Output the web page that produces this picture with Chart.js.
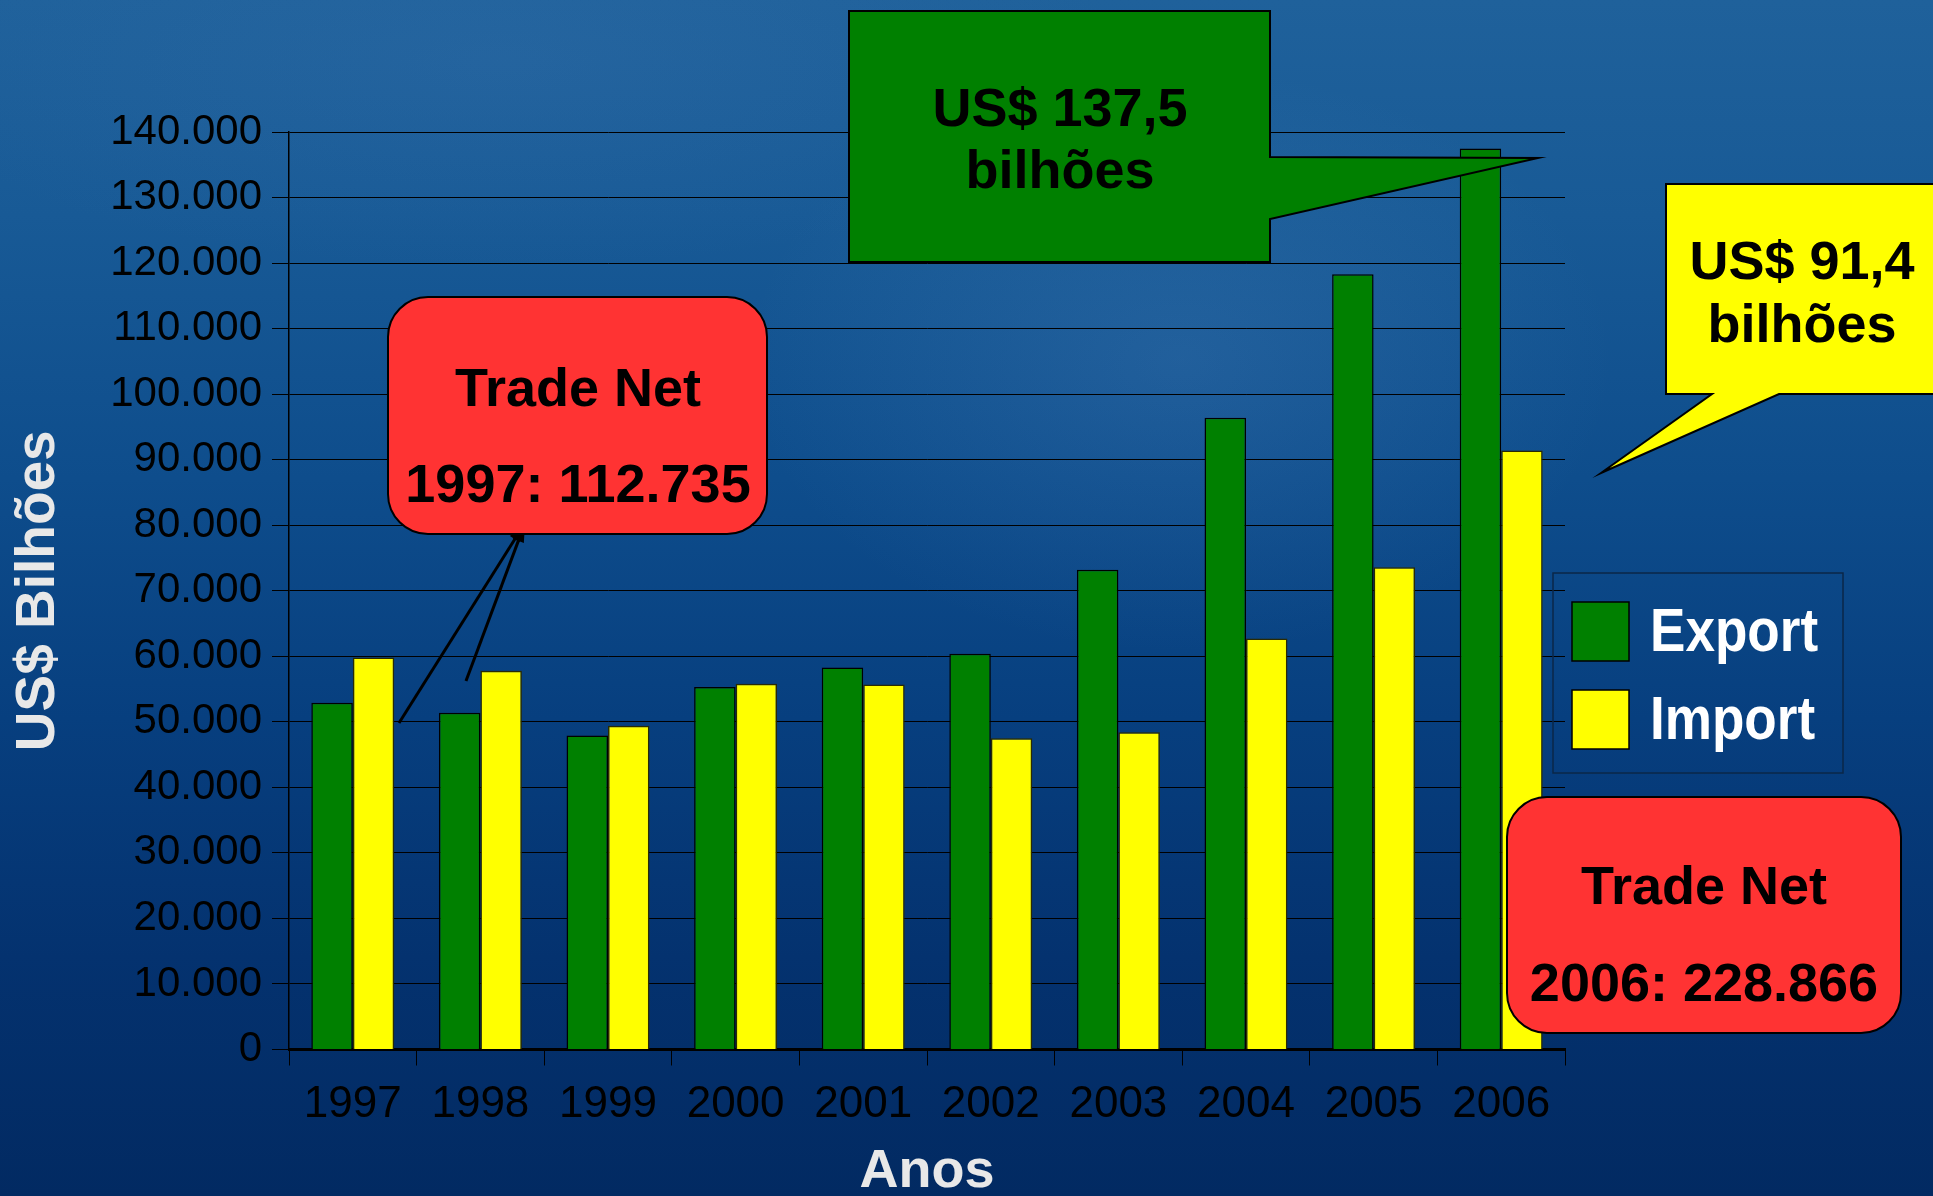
<!DOCTYPE html>
<html>
<head>
<meta charset="utf-8">
<title>Export / Import 1997-2006</title>
<script src="https://cdn.jsdelivr.net/npm/chart.js@4.4.1/dist/chart.umd.min.js"></script>
<style>
  html, body { margin: 0; padding: 0; overflow: hidden; background: #0a3f7e; }
  #wrap {
    width: 1933px; height: 1196px; position: relative;
    background:
      radial-gradient(ellipse 620px 420px at 1180px 360px, rgba(110,160,215,0.16), rgba(110,160,215,0) 70%),
      radial-gradient(ellipse 900px 300px at 500px 60px, rgba(80,130,190,0.14), rgba(80,130,190,0) 70%),
      linear-gradient(180deg, #1f619b 0%, #185a96 18%, #0e4d8c 40%, #073f7f 60%, #04326f 80%, #022a62 100%);
  }
</style>
</head>
<body>
<div id="wrap"><canvas id="tradeChart" width="1933" height="1196"></canvas></div>
<script>
// ===================================================================
// Brazil - Export x Import 1997-2006 (US$ milhões)
// ===================================================================

const years = ['1997', '1998', '1999', '2000', '2001', '2002', '2003', '2004', '2005', '2006'];
const exportValues = [52900, 51400, 47900, 55300, 58300, 60400, 73200, 96400, 118300, 137500];
const importValues = [59800, 57800, 49400, 55800, 55700, 47500, 48400, 62700, 73600, 91400];

const yMin = 0;
const yMax = 140000;
const yStep = 10000;

const seriesNames = ['Export', 'Import'];
const xTitle = 'Anos';
const yTitle = 'US$ Bilhões';

const exportNote = ['US$ 137,5', 'bilhões'];
const importNote = ['US$ 91,4', 'bilhões'];
const tradeNet1997 = ['Trade Net', '1997: 112.735'];
const tradeNet2006 = ['Trade Net', '2006: 228.866'];

const COLORS = {
  green: '#008000',
  yellow: '#ffff00',
  red: '#ff3333',
  text: '#000000',
  title: '#e8e8e8',
  grid: '#000000',
  legendBorder: '#0b2748',
};

const FONT = '"Liberation Sans", Arial, Helvetica, sans-serif';

// thousands with dots, e.g. 140.000
function fmt(v) {
  return String(v).replace(/\B(?=(\d{3})+(?!\d))/g, '.');
}

// callout boxes (layout only, pixel positions on the slide)
const CALLOUTS = [
  {
    lines: exportNote, fill: COLORS.green, cx: 1060, baselines: [126, 188],
    shape: [[849, 11], [1270, 11], [1270, 157], [1538, 158], [1270, 219], [1270, 262], [849, 262]],
  },
  {
    lines: importNote, fill: COLORS.yellow, cx: 1802, baselines: [279, 342],
    shape: [[1666, 184], [1945, 184], [1945, 394], [1779, 394], [1601, 473], [1712, 394], [1666, 394]],
  },
  {
    lines: tradeNet1997, fill: COLORS.red, cx: 578, baselines: [406, 502],
    box: { x: 388, y: 297, w: 379, h: 237, r: 40 },
  },
  {
    lines: tradeNet2006, fill: COLORS.red, cx: 1704, baselines: [904, 1001],
    box: { x: 1507, y: 797, w: 394, h: 236, r: 40 },
  },
];

const ARROWS = [
  { from: [399, 723], to: [525, 523] },
  { from: [466, 681], to: [525, 523] },
];

function drawArrow(ctx, a) {
  const [x1, y1] = a.from;
  const [x2, y2] = a.to;
  const ang = Math.atan2(y2 - y1, x2 - x1);
  ctx.beginPath();
  ctx.moveTo(x1, y1);
  ctx.lineTo(x2 - 10 * Math.cos(ang), y2 - 10 * Math.sin(ang));
  ctx.stroke();
  ctx.beginPath();
  ctx.moveTo(x2, y2);
  ctx.lineTo(x2 - 20 * Math.cos(ang - 0.3), y2 - 20 * Math.sin(ang - 0.3));
  ctx.lineTo(x2 - 20 * Math.cos(ang + 0.3), y2 - 20 * Math.sin(ang + 0.3));
  ctx.closePath();
  ctx.fill();
}

const calloutPlugin = {
  id: 'callouts',
  afterDraw(chart) {
    const ctx = chart.ctx;
    ctx.save();

    ctx.strokeStyle = '#000';
    ctx.fillStyle = '#000';
    ctx.lineWidth = 3;
    ARROWS.forEach(a => drawArrow(ctx, a));

    CALLOUTS.forEach(c => {
      ctx.beginPath();
      if (c.shape) {
        c.shape.forEach((p, i) => (i ? ctx.lineTo(p[0], p[1]) : ctx.moveTo(p[0], p[1])));
        ctx.closePath();
      } else {
        ctx.roundRect(c.box.x, c.box.y, c.box.w, c.box.h, c.box.r);
      }
      ctx.fillStyle = c.fill;
      ctx.fill();
      ctx.lineWidth = 2;
      ctx.strokeStyle = '#000';
      ctx.stroke();

      ctx.fillStyle = COLORS.text;
      ctx.font = 'bold 54px ' + FONT;
      ctx.textAlign = 'center';
      ctx.textBaseline = 'alphabetic';
      c.lines.forEach((t, i) => ctx.fillText(t, c.cx, c.baselines[i]));
    });
    ctx.restore();
  },
};

// legend box at the right, drawn from the datasets
const legendPlugin = {
  id: 'slideLegend',
  afterDraw(chart) {
    const ctx = chart.ctx;
    const box = { x: 1553, y: 573, w: 290, h: 200 };
    const rows = [602, 690];
    ctx.save();
    ctx.lineWidth = 1.5;
    ctx.strokeStyle = COLORS.legendBorder;
    ctx.strokeRect(box.x, box.y, box.w, box.h);

    chart.data.datasets.forEach((ds, i) => {
      const top = rows[i];
      ctx.fillStyle = ds.backgroundColor;
      ctx.fillRect(1572, top, 57, 59);
      ctx.lineWidth = 1.5;
      ctx.strokeStyle = '#000';
      ctx.strokeRect(1572, top, 57, 59);

      ctx.save();
      ctx.translate(1650, top + 49);
      ctx.scale(0.87, 1);
      ctx.fillStyle = '#ffffff';
      ctx.font = 'bold 61px ' + FONT;
      ctx.textAlign = 'left';
      ctx.textBaseline = 'alphabetic';
      ctx.fillText(ds.label, 0, 0);
      ctx.restore();
    });
    ctx.restore();
  },
};

const ctx = document.getElementById('tradeChart').getContext('2d');

const tradeChart = new Chart(ctx, {
  type: 'bar',
  data: {
    labels: years,
    datasets: [
      {
        label: seriesNames[0],
        data: exportValues,
        backgroundColor: COLORS.green,
        borderColor: '#000',
        borderWidth: 1.5,
      },
      {
        label: seriesNames[1],
        data: importValues,
        backgroundColor: COLORS.yellow,
        borderColor: '#2b2b00',
        borderWidth: 1.5,
      },
    ],
  },
  options: {
    responsive: false,
    animation: false,
    devicePixelRatio: 1,
    layout: {
      padding: { top: 132, right: 368, bottom: 0, left: 0 },
    },
    datasets: {
      bar: {
        categoryPercentage: 0.65,
        barPercentage: 1.0,
      },
    },
    plugins: {
      legend: { display: false },
      tooltip: { enabled: false },
      title: { display: false },
    },
    scales: {
      x: {
        afterFit(scale) { scale.height = 146.5; },
        grid: {
          offset: true,
          drawOnChartArea: false,
          drawTicks: true,
          tickLength: 16,
          color: COLORS.grid,
          lineWidth: 1,
        },
        border: { display: true, color: '#000', width: 3 },
        ticks: {
          color: COLORS.text,
          font: { family: FONT, size: 44 },
          padding: 13,
          maxRotation: 0,
          autoSkip: false,
        },
        title: {
          display: true,
          text: xTitle,
          color: COLORS.title,
          font: { family: FONT, size: 54, weight: 'bold', lineHeight: 0.9 },
          padding: { top: 0, bottom: 0 },
        },
      },
      y: {
        min: yMin,
        max: yMax,
        afterFit(scale) { scale.width = 289; },
        grid: {
          color: COLORS.grid,
          lineWidth: 1,
          drawTicks: true,
          tickLength: 17,
        },
        border: { display: true, color: '#000', width: 1.5 },
        ticks: {
          stepSize: yStep,
          color: COLORS.text,
          font: { family: FONT, size: 42 },
          padding: 10,
          callback: v => fmt(v),
        },
        title: {
          display: true,
          text: yTitle,
          color: COLORS.title,
          font: { family: FONT, size: 55, weight: 'bold', lineHeight: 1 },
          padding: { top: 11, bottom: 0 },
        },
      },
    },
  },
  plugins: [legendPlugin, calloutPlugin],
});
</script>
</body>
</html>
